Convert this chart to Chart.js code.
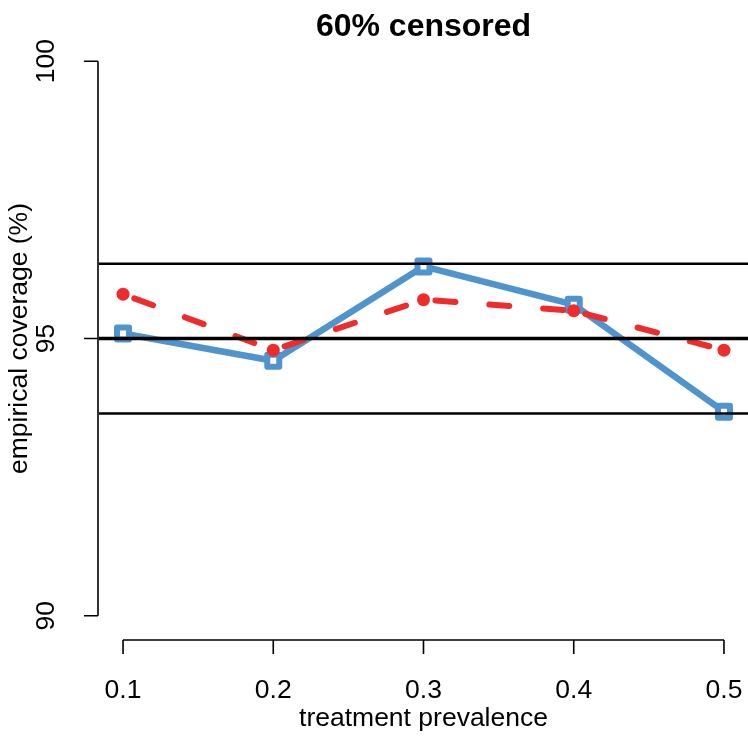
<!DOCTYPE html>
<html>
<head>
<meta charset="utf-8">
<script src="https://cdn.jsdelivr.net/npm/chart.js@4.4.0/dist/chart.umd.min.js"></script>
<style>
  html, body { margin: 0; padding: 0; background: #fff; }
  #wrap { width: 748px; height: 739px; }
</style>
</head>
<body>
<div id="wrap"><canvas id="covChart" width="748" height="739"></canvas></div>
<script>
// data
const prevalence = [0.1, 0.2, 0.3, 0.4, 0.5];
const blueCoverage = [95.09, 94.60, 96.30, 95.61, 93.68];
const redCoverage = [95.80, 94.79, 95.70, 95.50, 94.79];
const refLines = [96.35, 95, 93.65];
const refWidths = [2.5, 3.5, 2.5];
const xTicks = ['0.1', '0.2', '0.3', '0.4', '0.5'];
const yTicks = [90, 95, 100];

const titleText = '60% censored';
const xTitle = 'treatment prevalence';
const yTitle = 'empirical coverage (%)';

const FONT = "'Liberation Sans', Arial, Helvetica, sans-serif";
const BLUE = '#4F94CD';
const RED = '#EE2C2C';

// R-style axes, titles and reference lines
const rAxes = {
  id: 'rAxes',
  beforeDatasetsDraw(chart) {
    chart.ctx.lineJoin = 'round'; // rounded square markers
  },
  afterDatasetsDraw(chart) {
    const ctx = chart.ctx;
    const ys = chart.scales.y;
    const area = chart.chartArea;
    ctx.save();
    ctx.strokeStyle = '#000';
    ctx.lineCap = 'butt';
    refLines.forEach((v, i) => {
      const y = ys.getPixelForValue(v);
      ctx.lineWidth = refWidths[i];
      ctx.beginPath();
      ctx.moveTo(area.left, y);
      ctx.lineTo(area.right, y);
      ctx.stroke();
    });
    ctx.restore();
  },
  afterDraw(chart) {
    const ctx = chart.ctx;
    const xs = chart.scales.x, ys = chart.scales.y;
    const area = chart.chartArea;
    ctx.save();
    ctx.strokeStyle = '#000';
    ctx.fillStyle = '#000';
    ctx.lineWidth = 1.6;

    // y axis
    const axX = area.left - 1;
    ctx.beginPath();
    ctx.moveTo(axX, ys.getPixelForValue(yTicks[0]));
    ctx.lineTo(axX, ys.getPixelForValue(yTicks[yTicks.length - 1]));
    yTicks.forEach(t => {
      const y = ys.getPixelForValue(t);
      ctx.moveTo(axX, y);
      ctx.lineTo(axX - 14, y);
    });
    ctx.stroke();

    ctx.font = '26.5px ' + FONT;
    ctx.textAlign = 'center';
    ctx.textBaseline = 'middle';
    yTicks.forEach(t => {
      const y = ys.getPixelForValue(t);
      ctx.save();
      ctx.translate(47, y);
      ctx.rotate(-Math.PI / 2);
      ctx.fillText(String(t), 0, 0);
      ctx.restore();
    });

    // x axis
    const axY = area.bottom + 2;
    ctx.beginPath();
    ctx.moveTo(xs.getPixelForValue(prevalence[0]), axY);
    ctx.lineTo(xs.getPixelForValue(prevalence[prevalence.length - 1]), axY);
    prevalence.forEach(p => {
      const x = xs.getPixelForValue(p);
      ctx.moveTo(x, axY);
      ctx.lineTo(x, axY + 14);
    });
    ctx.stroke();

    prevalence.forEach((p, i) => {
      ctx.fillText(xTicks[i], xs.getPixelForValue(p), 691);
    });

    // axis titles
    ctx.fillText(xTitle, (area.left + area.right) / 2, 719);
    ctx.save();
    ctx.translate(20, (area.top + area.bottom) / 2);
    ctx.rotate(-Math.PI / 2);
    ctx.fillText(yTitle, 0, 0);
    ctx.restore();

    // main title
    ctx.font = 'bold 32px ' + FONT;
    ctx.fillText(titleText, (area.left + area.right) / 2, 27);
    ctx.restore();
  }
};

const ctx = document.getElementById('covChart').getContext('2d');
const covChart = new Chart(ctx, {
  type: 'line',
  data: {
    labels: prevalence,
    datasets: [
      {
        label: 'red',
        data: prevalence.map((p, i) => ({ x: p, y: redCoverage[i] })),
        borderColor: RED,
        backgroundColor: RED,
        borderWidth: 6,
        borderDash: [20, 34],
        borderDashOffset: 42,
        borderCapStyle: 'round',
        borderJoinStyle: 'round',
        pointStyle: 'circle',
        pointRadius: 6.5,
        pointBorderWidth: 0,
        pointBackgroundColor: RED,
        tension: 0,
        segment: {
          // restart the dash pattern on every segment, like R does
          borderDashOffset: c => (c.p0DataIndex % 2 ? 42.001 : 42)
        }
      },
      {
        label: 'blue',
        data: prevalence.map((p, i) => ({ x: p, y: blueCoverage[i] })),
        borderColor: BLUE,
        backgroundColor: BLUE,
        borderWidth: 6.5,
        borderCapStyle: 'round',
        borderJoinStyle: 'round',
        pointStyle: 'rect',
        pointRadius: 8.5,
        pointBorderWidth: 6,
        pointBorderColor: BLUE,
        pointBackgroundColor: '#fff',
        tension: 0
      }
    ]
  },
  options: {
    responsive: false,
    animation: false,
    devicePixelRatio: 1,
    layout: { autoPadding: false, padding: { left: 99, right: 0, top: 39, bottom: 101 } },
    plugins: {
      legend: { display: false },
      tooltip: { enabled: false },
      title: { display: false }
    },
    scales: {
      x: { type: 'linear', min: 0.084, max: 0.516, display: false },
      y: { type: 'linear', min: 89.6, max: 100.4, display: false }
    }
  },
  plugins: [rAxes]
});
</script>
</body>
</html>
